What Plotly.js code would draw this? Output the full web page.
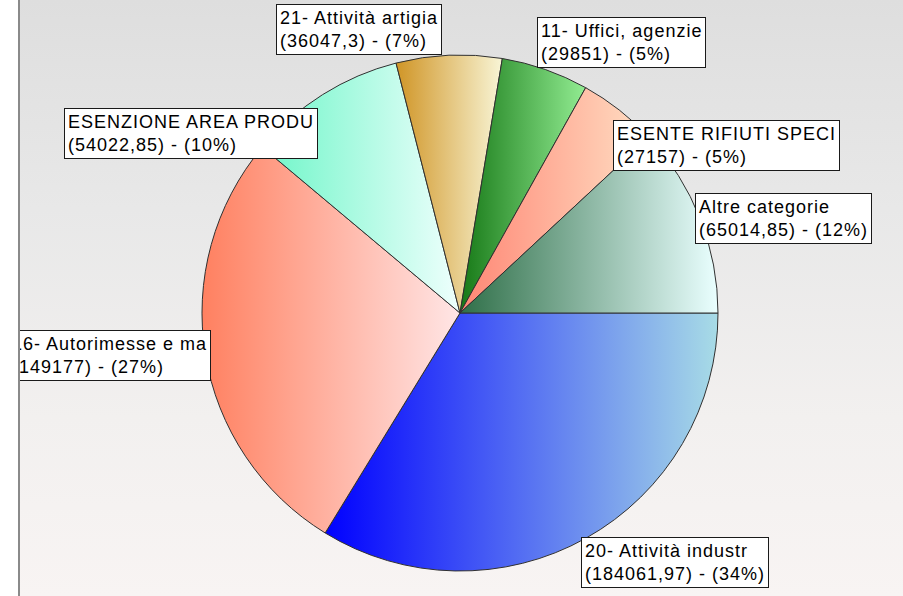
<!DOCTYPE html>
<html>
<head>
<meta charset="utf-8">
<script src="https://cdn.plot.ly/plotly-3.0.1.min.js"></script>
<style>
  html, body { margin: 0; padding: 0; background: #ffffff; }
  #wrap { position: relative; width: 903px; height: 596px; overflow: hidden;
          background: linear-gradient(to bottom, #dedede 0%, #e8e8e8 35%, #f2f0ef 70%, #f8f4f3 100%); }
  #chart { position: absolute; left: 0; top: 0; width: 903px; height: 596px; }
  #leftstrip { position: absolute; left: 0; top: 0; width: 18px; height: 596px;
               background: #ffffff; border-right: 2px solid #8a8a8a; z-index: 10; }
  .annotation-text { letter-spacing: 1px; }
</style>
</head>
<body>
<div id="wrap">
  <div id="chart"></div>
  <div id="leftstrip"></div>
</div>
<script>
// ---- data ----
var labels = [
  "20- Attività industr",
  "16- Autorimesse e ma",
  "ESENZIONE AREA PRODU",
  "21- Attività artigia",
  "11- Uffici, agenzie",
  "ESENTE RIFIUTI SPECI",
  "Altre categorie"
];
var values = [184061.97, 149177, 54022.85, 36047.3, 29851, 27157, 65014.85];

// ---- styling (not data) ----
var baseColors = ["#6f8ff0", "#ffb4a4", "#b8fbe6", "#e8cf88", "#58b858", "#ffb8a0", "#90b8a8"];
var gradStops = [
  ["#0000ff", "#a8dce6"],
  ["#ff8060", "#ffe6e6"],
  ["#6ef6c8", "#effffd"],
  ["#d09526", "#f8f5d6"],
  ["#167816", "#92ec92"],
  ["#ff8674", "#ffdfc4"],
  ["#2f6f48", "#eaffff"]
];
// label box positions in pixels: [x, y, xanchor]
var boxPos = [
  [581, 537, "left"],
  [211, 330, "right"],
  [64, 108, "left"],
  [276, 4, "left"],
  [537, 17, "left"],
  [613, 120, "left"],
  [695, 193, "left"]
];

var W = 903, H = 596;
var total = values.reduce(function (a, b) { return a + b; }, 0);
function fmt(v) { return String(v).replace(".", ","); }

var annotations = labels.map(function (lab, i) {
  var pct = Math.round(values[i] / total * 100);
  return {
    xref: "paper", yref: "paper",
    x: boxPos[i][0] / W, y: 1 - boxPos[i][1] / H,
    xanchor: boxPos[i][2], yanchor: "top",
    align: "left",
    showarrow: false,
    text: lab + "<br>(" + fmt(values[i]) + ") - (" + pct + "%)",
    font: { family: "Liberation Sans, Arial, sans-serif", size: 18, color: "#000000" },
    bgcolor: "#ffffff",
    bordercolor: "#1a1a1a",
    borderwidth: 1,
    borderpad: 3
  };
});

var trace = {
  type: "pie",
  labels: labels,
  values: values,
  sort: false,
  direction: "clockwise",
  rotation: 90,
  textinfo: "none",
  hoverinfo: "none",
  marker: { colors: baseColors, line: { color: "#303030", width: 1 } },
  domain: { x: [202 / W, 718 / W], y: [25 / H, 541 / H] }
};

var layout = {
  width: W, height: H,
  margin: { l: 0, r: 0, t: 0, b: 0, pad: 0 },
  paper_bgcolor: "rgba(0,0,0,0)",
  plot_bgcolor: "rgba(0,0,0,0)",
  showlegend: false,
  annotations: annotations
};

Plotly.newPlot("chart", [trace], layout, { staticPlot: true, displayModeBar: false }).then(function (gd) {
  var svg = gd.querySelector(".main-svg");
  var ns = "http://www.w3.org/2000/svg";
  var defs = svg.querySelector("defs");
  if (!defs) { defs = document.createElementNS(ns, "defs"); svg.insertBefore(defs, svg.firstChild); }
  gradStops.forEach(function (st, i) {
    var lg = document.createElementNS(ns, "linearGradient");
    lg.setAttribute("id", "sliceGrad" + i);
    lg.setAttribute("x1", "0"); lg.setAttribute("y1", "0");
    lg.setAttribute("x2", "1"); lg.setAttribute("y2", "0");
    [[0, st[0]], [1, st[1]]].forEach(function (s) {
      var stop = document.createElementNS(ns, "stop");
      stop.setAttribute("offset", s[0]);
      stop.setAttribute("stop-color", s[1]);
      lg.appendChild(stop);
    });
    defs.appendChild(lg);
  });
  var paths = gd.querySelectorAll(".pielayer .slice path.surface");
  paths.forEach(function (p, i) {
    p.style.fill = "url(#sliceGrad" + i + ")";
  });
});
</script>
</body>
</html>
